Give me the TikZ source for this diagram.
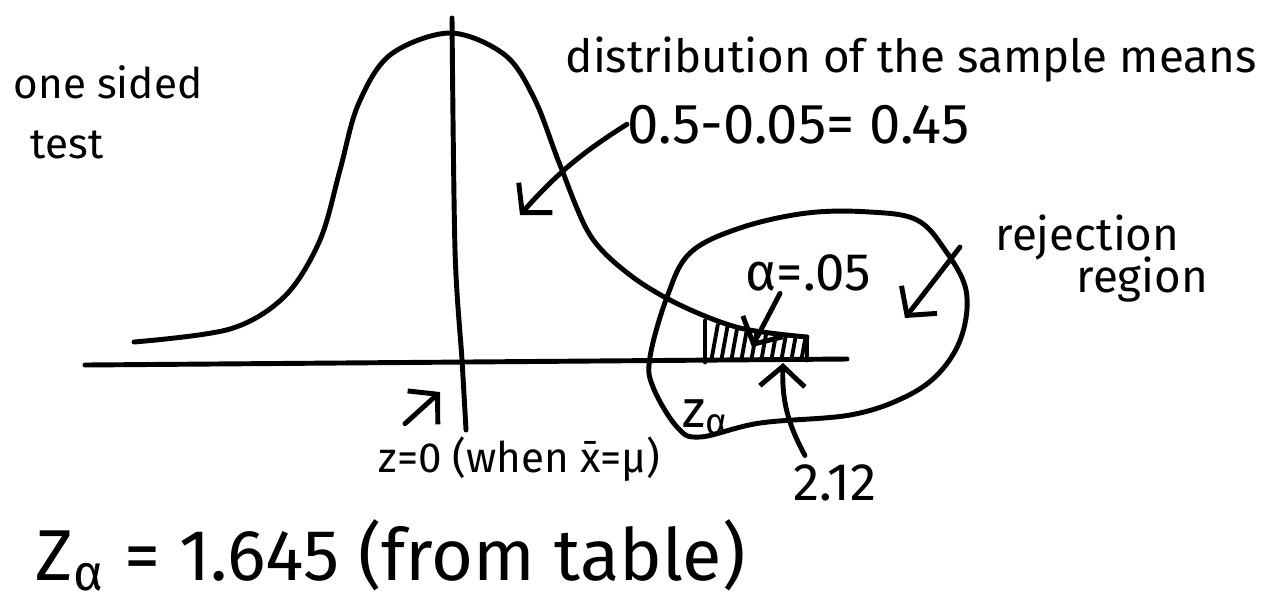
\documentclass[tikz,border=0pt]{standalone}
\usepackage{fontspec}
\setmainfont{Fira Sans}
\usepackage{tikz}
\usetikzlibrary{arrows.meta}

\begin{document}
\begin{tikzpicture}[x=0.01cm,y=-0.01cm,>={Straight Barb[length=2mm,width=4.5mm]},
  pen/.style={line width=1.4pt,line cap=round,line join=round},
  hand/.style={inner sep=0pt,anchor=base west,font=\fontsize{#1}{#1}\selectfont},
  hand/.default=13]
  \useasboundingbox (0,0) rectangle (1267,602);
  % axis, mean line, bell curve
  \coordinate (axl) at (85,365); \coordinate (axr) at (847,359);
  \draw[pen] (axl) -- (axr);
  \draw[pen] plot[smooth] coordinates {(452,18) (455,250) (462,360) (466,430)};
  \draw[pen] plot[smooth,tension=0.55] coordinates {(134,342) (230,329) (285,296) (320,240) (340,170)
    (358,105) (390,55) (450,33) (505,55) (535,100) (560,165) (590,235) (630,275) (680,305)
    (740,328) (807,337)};
  % shaded tail
  \draw[pen] (705,321) -- (705,362);
  \draw[pen] (807,337) -- (807,360);
  \begin{scope}
    \clip (705,321) -- (740,328) -- (807,337) -- (807,360) -- (705,360) -- cycle;
    \foreach \h in {0,...,9}
      \draw[line width=1.1pt] (711+10*\h,362) -- (719+10*\h,318);
  \end{scope}
  % rejection region blob
  \draw[pen] plot[smooth cycle,tension=0.6] coordinates {(690,253) (740,228) (807,213) (870,212) (917,220)
    (945,250) (966,290) (962,335) (940,372) (905,397) (850,415) (760,423) (700,437) (677,427)
    (653,387) (650,357) (667,297)};
  % labels
  \node[hand=12] (one) at (13,98) {one sided};
  \node[hand=12] (test) at (30,158) {test};
  \node[hand] (dist) at (565,72) {distribution of the sample means};
  \node[hand=16] (half) at (627,143) {0.5-0.05= 0.45};
  \node[hand=15] (alpha) at (745,290) {α=.05};
  \node[hand] (reject) at (995,250) {rejection};
  \node[hand] (region) at (1076,292) {region};
  \node[hand=15] (zalpha) at (682,427) {z\textsubscript{α}};
  \node[hand=15] (crit) at (793,500) {2.12};
  \node[hand=12] (zzero) at (378,472) {z=0 (when x̄=μ)};
  \node[hand=20.5] (ztab) at (35,580) {Z\textsubscript{α} = 1.645 (from table)};
  % pointers
  \coordinate (halftip) at (520,215);
  \coordinate (alphatip) at (752,347);
  \coordinate (rejtip) at (905,318);
  \coordinate (crittip) at (783,363);
  \coordinate (zerotip) at (440,392);
  \draw[pen,->] (half.west) to[bend right=8] (halftip);
  \draw[pen,->] (alpha.south west) ++(35,2) -- (alphatip);
  \draw[pen,->] (reject.west) ++(-35,10) -- (rejtip);
  \draw[pen,->] (crit.north) ++(-30,-8) to[bend left=15] (crittip);
  \draw[pen,->] (zzero.north west) ++(27,-12) -- (zerotip);
\end{tikzpicture}
\end{document}
